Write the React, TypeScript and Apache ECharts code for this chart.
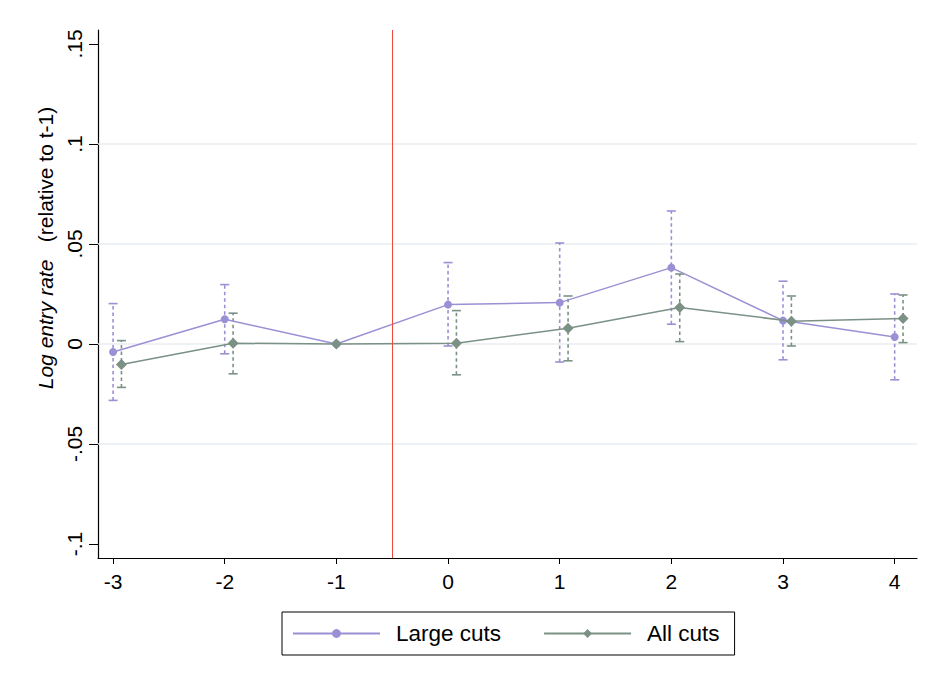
import React, { useEffect, useRef } from "react";
import * as echarts from "echarts";

const periods = [-3, -2, -1, 0, 1, 2, 3, 4];
const xTicks = [-3, -2, -1, 0, 1, 2, 3, 4];
const yTicks = [-0.1, -0.05, 0, 0.05, 0.1, 0.15];
const yGrid = [-0.05, 0, 0.05, 0.1];
const eventLine = -0.5;
const dodge = 0.075;

const largeVals = [-0.004, 0.0124, 0, 0.0197, 0.0207, 0.0382, 0.0117, 0.0035];
const largeHi = [0.0202, 0.0297, null, 0.0407, 0.0505, 0.0665, 0.0314, 0.025];
const largeLo = [-0.0282, -0.0049, null, -0.001, -0.009, 0.0099, -0.0079, -0.0179];

const allVals = [-0.0102, 0.0004, 0, 0.0004, 0.0079, 0.0182, 0.0114, 0.0127];
const allHi = [0.0017, 0.0154, null, 0.0167, 0.024, 0.035, 0.024, 0.0245];
const allLo = [-0.0217, -0.0149, null, -0.0154, -0.0084, 0.0012, -0.001, 0.0007];

const PURPLE = "#9a90d4";
const GREEN = "#7b9185";
const FONT = "'Liberation Sans', Arial, Helvetica, sans-serif";

const fmtY = (v: number) => {
  if (Math.abs(v) < 1e-9) return "0";
  const s = String(Math.round(v * 100) / 100);
  return s.replace("0.", ".");
};

export default function App() {
  const ref = useRef<HTMLDivElement>(null);
  useEffect(() => {
    if (!ref.current) return;
    const chart = echarts.init(ref.current, undefined, { renderer: "svg" });

    const largeX = periods;
    const allX = periods.map((p) => (p === -1 ? p : p + dodge));

    const errData = (xs: number[], lo: (number | null)[], hi: (number | null)[]) =>
      xs
        .map((x, i) => (lo[i] == null ? null : [x, lo[i], hi[i]]))
        .filter((d) => d !== null);

    const errRender = (color: string) => (params: any, api: any) => {
      const x = api.value(0);
      const p1 = api.coord([x, api.value(1)]);
      const p2 = api.coord([x, api.value(2)]);
      const half = 4.5;
      return {
        type: "group",
        children: [
          {
            type: "line",
            shape: { x1: p1[0], y1: p1[1], x2: p2[0], y2: p2[1] },
            style: { stroke: color, lineWidth: 1.6, lineDash: [3.5, 3] },
          },
          {
            type: "line",
            shape: { x1: p1[0] - half, y1: p1[1], x2: p1[0] + half, y2: p1[1] },
            style: { stroke: color, lineWidth: 1.6 },
          },
          {
            type: "line",
            shape: { x1: p2[0] - half, y1: p2[1], x2: p2[0] + half, y2: p2[1] },
            style: { stroke: color, lineWidth: 1.6 },
          },
        ],
      };
    };

    chart.setOption({
      animation: false,
      backgroundColor: "#fff",
      grid: { left: 98, right: 14, top: 30, bottom: 125, containLabel: false },
      xAxis: {
        type: "value",
        min: -3.135,
        max: 4.2,
        axisLine: { show: true, onZero: false, lineStyle: { color: "#000", width: 1.2 } },
        axisTick: { show: true, length: 6, customValues: xTicks, lineStyle: { color: "#000" } },
        axisLabel: {
          customValues: xTicks,
          color: "#000",
          fontSize: 21,
          fontFamily: FONT,
          margin: 13,
          formatter: (v: number) => String(v),
        },
        splitLine: { show: false },
      },
      yAxis: {
        type: "value",
        min: -0.107,
        max: 0.157,
        axisLine: { show: true, onZero: false, lineStyle: { color: "#000", width: 1.2 } },
        axisTick: { show: true, length: 9, customValues: yTicks, lineStyle: { color: "#000" } },
        axisLabel: {
          customValues: yTicks,
          rotate: 90,
          color: "#000",
          fontSize: 21,
          fontFamily: FONT,
          margin: 13,
          formatter: (v: number) => fmtY(v),
        },
        splitLine: { show: false },
      },
      legend: {
        data: ["Large cuts", "All cuts"],
        left: 282,
        top: 612,
        orient: "horizontal",
        itemWidth: 87,
        itemHeight: 11,
        itemGap: 42,
        borderColor: "#000",
        borderWidth: 1,
        borderRadius: 0,
        padding: [10, 15, 10, 10],
        textStyle: { fontSize: 22.5, color: "#000", fontFamily: FONT, padding: [0, 0, 0, 11] },
      },
      graphic: [
        {
          type: "text",
          x: 45,
          y: 248,
          rotation: Math.PI / 2,
          style: {
            text: "{i|Log entry rate}   {n|(relative to t-1)}",
            fontSize: 21,
            fontFamily: FONT,
            fill: "#000",
            align: "center",
            verticalAlign: "middle",
            rich: {
              i: { fontStyle: "italic", fontSize: 21, fontFamily: FONT, fill: "#000" },
              n: { fontSize: 21, fontFamily: FONT, fill: "#000" },
            },
          },
        },
      ],
      series: [
        {
          name: "Large cuts CI",
          type: "custom",
          renderItem: errRender(PURPLE),
          data: errData(largeX, largeLo, largeHi),
          z: 2,
          markLine: {
            silent: true,
            symbol: "none",
            label: { show: false },
            lineStyle: { color: "#e8eef1", width: 1.5, type: "solid" },
            data: yGrid.map((v) => ({ yAxis: v })),
            z: 1,
          },
        },
        {
          name: "All cuts CI",
          type: "custom",
          renderItem: errRender(GREEN),
          data: errData(allX, allLo, allHi),
          z: 2,
          markLine: {
            silent: true,
            symbol: "none",
            label: { show: false },
            lineStyle: { color: "#ee4a3c", width: 1, type: "solid" },
            data: [{ xAxis: eventLine }],
          },
        },
        {
          name: "Large cuts",
          type: "line",
          data: largeX.map((x, i) => [x, largeVals[i]]),
          symbol: "circle",
          symbolSize: 8,
          itemStyle: { color: PURPLE },
          lineStyle: { color: PURPLE, width: 1.5 },
          z: 3,
        },
        {
          name: "All cuts",
          type: "line",
          data: allX.map((x, i) => [x, allVals[i]]),
          symbol: "diamond",
          symbolSize: 11,
          itemStyle: { color: GREEN },
          lineStyle: { color: GREEN, width: 1.5 },
          z: 4,
        },
      ],
    });
    return () => chart.dispose();
  }, []);
  return <div ref={ref} style={{ width: 931, height: 683, margin: -8 }} />;
}
